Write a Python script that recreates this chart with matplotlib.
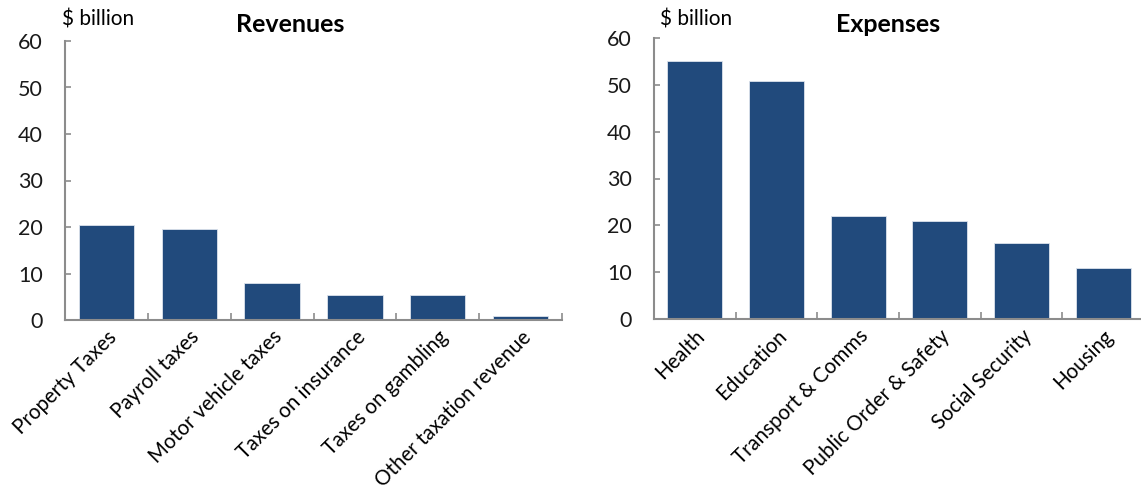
import matplotlib
matplotlib.use("Agg")
import matplotlib.pyplot as plt
import numpy as np

rev_cats = ["Property Taxes", "Payroll taxes", "Motor vehicle taxes",
            "Taxes on insurance", "Taxes on gambling", "Other taxation revenue"]
rev_vals = [20.4, 19.6, 8.0, 5.4, 5.4, 0.8]

exp_cats = ["Health", "Education", "Transport & Comms",
            "Public Order & Safety", "Social Security", "Housing"]
exp_vals = [55.1, 50.8, 21.9, 21.0, 16.3, 10.8]

yticks = [0, 10, 20, 30, 40, 50, 60]

plt.rcParams['font.family'] = ['Lato', 'DejaVu Sans']

W, H = 1141, 493
fig = plt.figure(figsize=(W / 100, H / 100), dpi=100)

bar_color = "#214A7C"
spine_color = "#8C8C8C"


def px_axes(x0, x1, ytop, ybot):
    return fig.add_axes([x0 / W, 1 - ybot / H, (x1 - x0) / W, (ybot - ytop) / H])


def style(ax, cats, vals):
    x = np.arange(len(cats))
    ax.bar(x, vals, width=0.67, color=bar_color, edgecolor="#DCE3EC", linewidth=0.6, zorder=2)
    ax.set_xlim(-0.5, len(cats) - 0.5)
    ax.set_ylim(0, 60)
    ax.set_yticks(yticks)
    ax.set_yticklabels([str(t) for t in yticks], fontsize=15.5)
    ax.set_xticks(x)
    ax.set_xticklabels(cats, rotation=45, ha="right", va="top",
                       rotation_mode="anchor", fontsize=14.8)
    ax.set_xticks(np.arange(len(cats)) + 0.5, minor=True)
    ax.tick_params(axis="x", which="major", length=0, pad=5)
    ax.tick_params(axis="x", which="minor", direction="in", length=5,
                   width=1.2, color=spine_color)
    ax.tick_params(axis="y", direction="in", length=4, width=1.2,
                   color=spine_color, pad=16)
    for s in ["top", "right"]:
        ax.spines[s].set_visible(False)
    for s in ["left", "bottom"]:
        ax.spines[s].set_color(spine_color)
        ax.spines[s].set_linewidth(1.5)
    for lab in ax.get_yticklabels():
        lab.set_color("#1a1a1a")


ax1 = px_axes(65, 562, 41, 320)
style(ax1, rev_cats, rev_vals)
ax2 = px_axes(654, 1144, 38, 319)
style(ax2, exp_cats, exp_vals)

fig.text(62 / W, 1 - 19 / H, "$ billion", fontsize=15, ha="left", va="center")
fig.text(660 / W, 1 - 19 / H, "$ billion", fontsize=15, ha="left", va="center")
fig.text(290 / W, 1 - 24 / H, "Revenues", fontsize=18, fontweight="bold",
         ha="center", va="center")
fig.text(888 / W, 1 - 24 / H, "Expenses", fontsize=18, fontweight="bold",
         ha="center", va="center")

fig.savefig("out.png", dpi=100)
